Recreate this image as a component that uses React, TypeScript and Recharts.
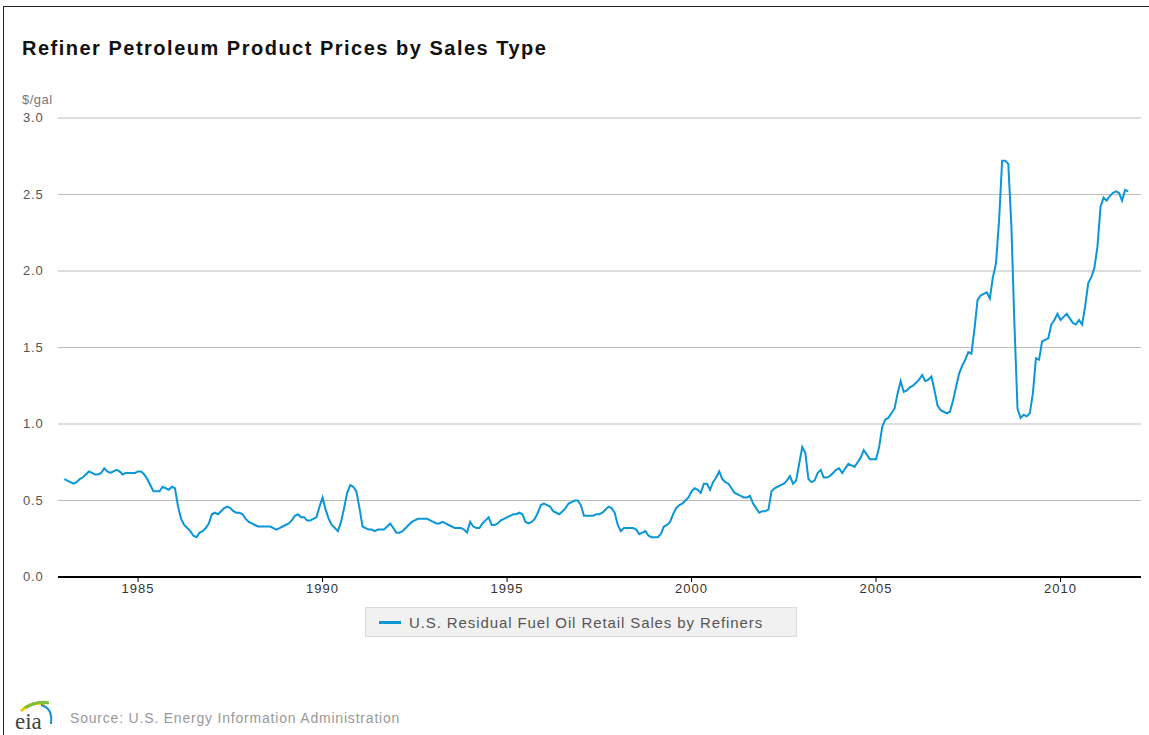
import { LineChart, Line, XAxis, YAxis, CartesianGrid } from 'recharts';

// monthly values, $/gal, Jan 1983 .. Nov 2011
const START_YEAR = 1983;
const Y1983 = [0.64, 0.63, 0.62, 0.61, 0.62, 0.64, 0.65, 0.67, 0.69, 0.68, 0.67, 0.67];
const Y1984 = [0.68, 0.71, 0.69, 0.68, 0.69, 0.70, 0.69, 0.67, 0.68, 0.68, 0.68, 0.68];
const Y1985 = [0.69, 0.69, 0.67, 0.64, 0.60, 0.56, 0.56, 0.56, 0.59, 0.58, 0.57, 0.59];
const Y1986 = [0.58, 0.46, 0.38, 0.34, 0.32, 0.30, 0.27, 0.26, 0.29, 0.30, 0.32, 0.35];
const Y1987 = [0.41, 0.42, 0.41, 0.43, 0.45, 0.46, 0.45, 0.43, 0.42, 0.42, 0.41, 0.38];
const Y1988 = [0.36, 0.35, 0.34, 0.33, 0.33, 0.33, 0.33, 0.33, 0.32, 0.31, 0.32, 0.33];
const Y1989 = [0.34, 0.35, 0.37, 0.40, 0.41, 0.39, 0.39, 0.37, 0.37, 0.38, 0.39, 0.46];
const Y1990 = [0.52, 0.44, 0.38, 0.34, 0.32, 0.30, 0.36, 0.45, 0.55, 0.60, 0.59, 0.56];
const Y1991 = [0.45, 0.33, 0.32, 0.31, 0.31, 0.30, 0.31, 0.31, 0.31, 0.33, 0.35, 0.32];
const Y1992 = [0.29, 0.29, 0.30, 0.32, 0.34, 0.36, 0.37, 0.38, 0.38, 0.38, 0.38, 0.37];
const Y1993 = [0.36, 0.35, 0.35, 0.36, 0.35, 0.34, 0.33, 0.32, 0.32, 0.32, 0.31, 0.29];
const Y1994 = [0.36, 0.33, 0.32, 0.32, 0.35, 0.37, 0.39, 0.34, 0.34, 0.35, 0.37, 0.38];
const Y1995 = [0.39, 0.40, 0.41, 0.41, 0.42, 0.41, 0.36, 0.35, 0.36, 0.38, 0.42, 0.47];
const Y1996 = [0.48, 0.47, 0.46, 0.43, 0.42, 0.41, 0.43, 0.45, 0.48, 0.49, 0.50, 0.50];
const Y1997 = [0.47, 0.40, 0.40, 0.40, 0.40, 0.41, 0.41, 0.42, 0.44, 0.46, 0.45, 0.42];
const Y1998 = [0.34, 0.30, 0.32, 0.32, 0.32, 0.32, 0.31, 0.28, 0.29, 0.30, 0.27, 0.26];
const Y1999 = [0.26, 0.26, 0.28, 0.33, 0.34, 0.36, 0.41, 0.45, 0.47, 0.48, 0.50, 0.52];
const Y2000 = [0.56, 0.58, 0.57, 0.55, 0.61, 0.61, 0.57, 0.62, 0.65, 0.69, 0.64, 0.62];
const Y2001 = [0.61, 0.58, 0.55, 0.54, 0.53, 0.52, 0.52, 0.53, 0.48, 0.45, 0.42, 0.43];
const Y2002 = [0.43, 0.44, 0.56, 0.58, 0.59, 0.60, 0.61, 0.63, 0.66, 0.61, 0.63, 0.74];
const Y2003 = [0.85, 0.81, 0.64, 0.62, 0.63, 0.68, 0.70, 0.65, 0.65, 0.66, 0.68, 0.70];
const Y2004 = [0.71, 0.68, 0.71, 0.74, 0.73, 0.72, 0.75, 0.78, 0.83, 0.80, 0.77, 0.77];
const Y2005 = [0.77, 0.85, 0.98, 1.03, 1.04, 1.07, 1.10, 1.20, 1.28, 1.21, 1.22, 1.24];
const Y2006 = [1.25, 1.27, 1.29, 1.32, 1.28, 1.29, 1.31, 1.22, 1.12, 1.09, 1.08, 1.07];
const Y2007 = [1.08, 1.15, 1.24, 1.33, 1.38, 1.42, 1.47, 1.46, 1.62, 1.81, 1.84, 1.85];
const Y2008 = [1.86, 1.82, 1.96, 2.05, 2.33, 2.72, 2.72, 2.70, 2.30, 1.65, 1.10, 1.04];
const Y2009 = [1.06, 1.05, 1.07, 1.20, 1.43, 1.42, 1.54, 1.55, 1.56, 1.65, 1.68, 1.72];
const Y2010 = [1.68, 1.70, 1.72, 1.69, 1.66, 1.65, 1.68, 1.65, 1.77, 1.92, 1.96, 2.02];
const Y2011 = [2.16, 2.42, 2.48, 2.46, 2.49, 2.51, 2.52, 2.51, 2.46, 2.53, 2.52];

const YEARS = [
  Y1983, Y1984, Y1985, Y1986, Y1987, Y1988, Y1989, Y1990, Y1991, Y1992,
  Y1993, Y1994, Y1995, Y1996, Y1997, Y1998, Y1999, Y2000, Y2001, Y2002,
  Y2003, Y2004, Y2005, Y2006, Y2007, Y2008, Y2009, Y2010, Y2011,
];

const X_TICKS = [1985, 1990, 1995, 2000, 2005, 2010];
const Y_TICKS = [0, 0.5, 1, 1.5, 2, 2.5, 3];

const SERIES_NAME = 'U.S. Residual Fuel Oil Retail Sales by Refiners';
const LINE_COLOR = '#0a96d7';
const FONT = '"Liberation Sans", Arial, sans-serif';

const data = YEARS.flatMap((vals, i) =>
  vals.map((v, m) => ({ t: START_YEAR + i + m / 12, price: v }))
);

function YTick(props: any) {
  const { y, payload } = props;
  return (
    <text x={23} y={y} dy={4} textAnchor="start" fontSize={13} letterSpacing={0.8} fill="#555" fontFamily={FONT}>
      {Number(payload.value).toFixed(1)}
    </text>
  );
}

function EiaLogo() {
  return (
    <svg width={52} height={38} style={{ position: 'absolute', left: 12, top: 696 }}>
      <path d="M9 15 Q19 5 33 8" stroke="#f5c400" strokeWidth={3} fill="none" />
      <path d="M13 12 Q25 4 37 7" stroke="#7bbf3a" strokeWidth={3} fill="none" />
      <path d="M29 9 Q41 12 39 28" stroke="#1a8fd0" strokeWidth={2} fill="none" />
      <text x={3} y={33} fontSize={23} fontFamily='"Liberation Serif", serif' fill="#444">eia</text>
    </svg>
  );
}

export default function App() {
  return (
    <div
      style={{
        position: 'absolute',
        left: 0,
        top: 0,
        width: 1149,
        height: 735,
        background: '#fff',
        fontFamily: FONT,
        overflow: 'hidden',
      }}
    >
      {/* frame: top and left edges */}
      <div style={{ position: 'absolute', left: 3, top: 6, width: 1146, height: 1, background: '#222' }} />
      <div style={{ position: 'absolute', left: 3, top: 6, width: 1, height: 729, background: '#222' }} />

      <div
        style={{
          position: 'absolute',
          left: 22,
          top: 37,
          fontSize: 20,
          fontWeight: 'bold',
          color: '#111',
          letterSpacing: 1.5,
          whiteSpace: 'nowrap',
        }}
      >
        Refiner Petroleum Product Prices by Sales Type
      </div>
      <div style={{ position: 'absolute', left: 22, top: 92, fontSize: 13, color: '#777', letterSpacing: 0.5 }}>$/gal</div>

      <div style={{ position: 'absolute', left: 0, top: 0 }}>
        <LineChart width={1149} height={600} data={data} margin={{ top: 118, right: 8, left: 0, bottom: 0 }}>
          <CartesianGrid vertical={false} stroke="#bdbdbd" strokeWidth={1} />
          <XAxis
            dataKey="t"
            type="number"
            domain={[1982.83, 2012.18]}
            ticks={X_TICKS}
            allowDataOverflow
            height={23}
            axisLine={{ stroke: '#000', strokeWidth: 2 }}
            tickLine={{ stroke: '#000' }}
            tickSize={5}
            tickMargin={2}
            tick={{ fontSize: 13, fill: '#333', fontFamily: FONT, letterSpacing: 1 }}
          />
          <YAxis
            type="number"
            domain={[0, 3]}
            ticks={Y_TICKS}
            width={58}
            axisLine={false}
            tickLine={false}
            tick={<YTick />}
          />
          <Line
            type="linear"
            dataKey="price"
            stroke={LINE_COLOR}
            strokeWidth={2}
            dot={false}
            isAnimationActive={false}
          />
        </LineChart>
      </div>

      {/* legend */}
      <div
        style={{
          position: 'absolute',
          left: 365,
          top: 607,
          width: 432,
          height: 30,
          background: '#f1f1f1',
          border: '1px solid #dcdcdc',
          display: 'flex',
          alignItems: 'center',
          boxSizing: 'border-box',
        }}
      >
        <div style={{ width: 22, height: 3, background: LINE_COLOR, marginLeft: 13, marginRight: 8 }} />
        <span style={{ fontSize: 15, color: '#555', whiteSpace: 'nowrap', letterSpacing: 0.9 }}>{SERIES_NAME}</span>
      </div>

      <EiaLogo />
      <div
        style={{
          position: 'absolute',
          left: 70,
          top: 710,
          fontSize: 14,
          color: '#999',
          whiteSpace: 'nowrap',
          letterSpacing: 0.8,
        }}
      >
        Source: U.S. Energy Information Administration
      </div>
    </div>
  );
}
